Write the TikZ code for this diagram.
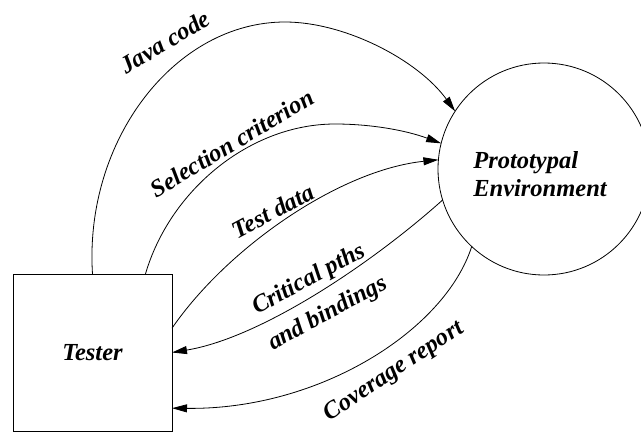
\documentclass[tikz,border=0pt]{standalone}
\usepackage{fontspec}
\setmainfont{Liberation Serif}
\usetikzlibrary{arrows.meta}
\begin{document}
\begin{tikzpicture}[x=1pt,y=-1pt,
  every node/.style={font=\fontsize{24.5}{28}\selectfont\bfseries\itshape},
  flow/.style={line width=0.8pt,-{Triangle[length=15pt,width=8pt]}},
  lbl/.style={inner sep=0pt,anchor=center},
  agent/.style={draw,line width=0.8pt,outer sep=0pt,inner sep=0pt}]
\useasboundingbox (0,0) rectangle (641,432);

% actors
\node[agent,rectangle,minimum width=159pt,minimum height=157pt] (tester) at (92.5,352.5) {Tester};
\node[agent,circle,minimum size=212pt] (env) at (544,169) {};
\node[lbl,align=left] (envtext) at (540,174) {Prototypal\\Environment};

% tester -> environment
\draw[flow] (tester.north) .. controls (84,140) and (175,22) .. (285,22)
  .. controls (345,22) and (418,60) .. (env.147);
\draw[flow] (tester.56) .. controls (170,190) and (250,124) .. (335,124)
  .. controls (370,124) and (405,130) .. (env.166);
\draw[flow] (tester.17) .. controls (228,247) and (340,170) .. (env.175);

% environment -> tester
\draw[flow] (env.197) .. controls (370,265) and (260,338) .. (tester.east);
\draw[flow] (env.227) .. controls (445,330) and (320,410) .. (tester.-35);

% flow labels
\node[lbl,rotate=31] (ljava) at (165,42) {Java code};
\node[lbl,rotate=31] (lsel) at (232,143) {Selection criterion};
\node[lbl,rotate=28] (ltest) at (273,211) {Test data};
\node[lbl,rotate=28.5] (lcrit) at (309,280) {Critical pths};
\node[lbl,rotate=28.5] (lbind) at (328,314) {and bindings};
\node[lbl,rotate=33.7] (lcov) at (394,372) {Coverage report};
\end{tikzpicture}
\end{document}
